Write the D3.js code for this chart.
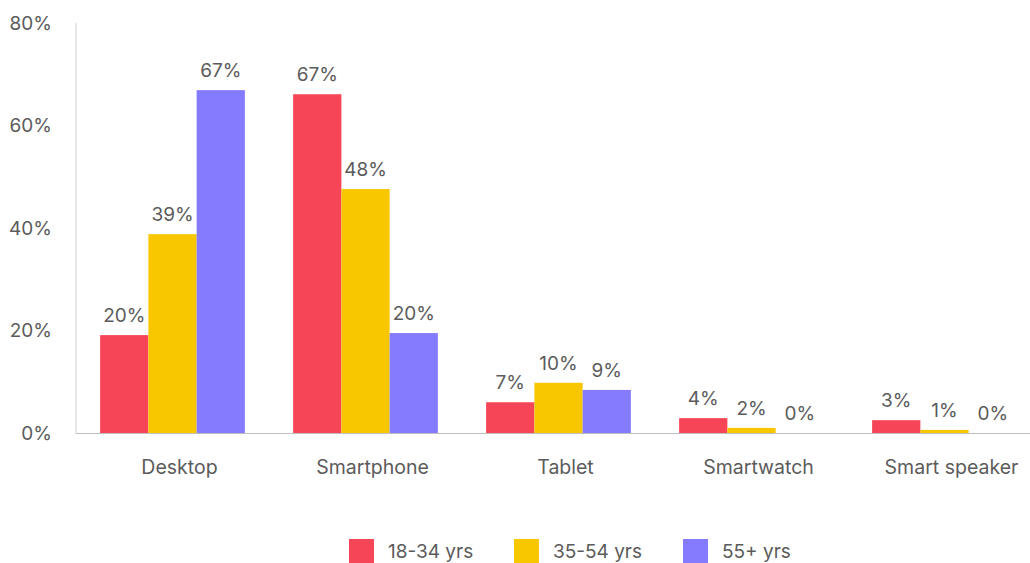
<!DOCTYPE html>
<html><head><meta charset="utf-8">
<script src="https://cdn.jsdelivr.net/npm/d3@7"></script>
<style>body{margin:0;background:#fff}svg{display:block}text{font-family:"Inter","Noto Sans",sans-serif;fill:#5b5b5b}</style>
</head><body><svg id="c" width="1030" height="563"></svg>
<script>
const categories = ["Desktop","Smartphone","Tablet","Smartwatch","Smart speaker"];
const seriesNames = ["18-34 yrs","35-54 yrs","55+ yrs"];
const s1834 = [19.1, 66.1, 6.0, 2.9, 2.5];
const s3554 = [38.8, 47.6, 9.8, 1.0, 0.6];
const s55 = [66.9, 19.5, 8.4, 0, 0];
const labels1834 = ["20%","67%","7%","4%","3%"];
const labels3554 = ["39%","48%","10%","2%","1%"];
const labels55 = ["67%","20%","9%","0%","0%"];
const yTicks = [0,20,40,60,80];
const colors = ["#F64557","#F9C700","#857BFF"];

(function(){
const series = [s1834, s3554, s55];
const seriesLabels = [labels1834, labels3554, labels55];
const svg = d3.select("#c");
const mLeft = 76, mRight = 1041, mTop = 23, mBottom = 433;
const fs = "19px";
const x = d3.scaleBand().domain(categories).range([mLeft, mRight]).paddingInner(0.25).paddingOuter(0.125);
const xs = d3.scaleBand().domain(d3.range(3)).range([0, x.bandwidth()]);
const y = d3.scaleLinear().domain([0,80]).range([mBottom, mTop]);

svg.append("line").attr("x1",mLeft).attr("x2",mLeft).attr("y1",mTop).attr("y2",mBottom).attr("stroke","#d0d0d0").attr("stroke-width",1);
svg.selectAll(".yt").data(yTicks).enter().append("text")
  .attr("x",52).attr("y",d=>y(d)).attr("dy","0.35em").attr("text-anchor","end")
  .style("font-size",fs).text(d=>d+"%");

const g = svg.selectAll(".cat").data(categories).enter().append("g").attr("transform",d=>`translate(${x(d)},0)`);
series.forEach((s,si)=>{
  g.append("rect").attr("x",xs(si)).attr("width",xs.bandwidth()).attr("y",(d,i)=>y(s[i])).attr("height",(d,i)=>mBottom-y(s[i])).attr("fill",colors[si]);
  g.append("text").attr("x",xs(si)+xs.bandwidth()/2).attr("y",(d,i)=>y(s[i])-13).attr("text-anchor","middle")
   .style("font-size",fs).text((d,i)=>seriesLabels[si][i]);
});
svg.append("line").attr("x1",mLeft).attr("x2",1030).attr("y1",mBottom+0.5).attr("y2",mBottom+0.5).attr("stroke","#bfbfbf").attr("stroke-width",1);
svg.selectAll(".xl").data(categories).enter().append("text")
  .attr("x",d=>x(d)+x.bandwidth()/2+7).attr("y",474).attr("text-anchor","middle").style("font-size","19.5px").text(d=>d);

const lx = [349, 514, 683];
const lg = svg.selectAll(".lg").data(seriesNames).enter().append("g").attr("transform",(d,i)=>`translate(${lx[i]},539)`);
lg.append("rect").attr("width",25).attr("height",24).attr("fill",(d,i)=>colors[i]);
lg.append("text").attr("x",39).attr("y",12).attr("dy","0.35em").style("font-size",fs).text(d=>d);
})();
</script></body></html>
